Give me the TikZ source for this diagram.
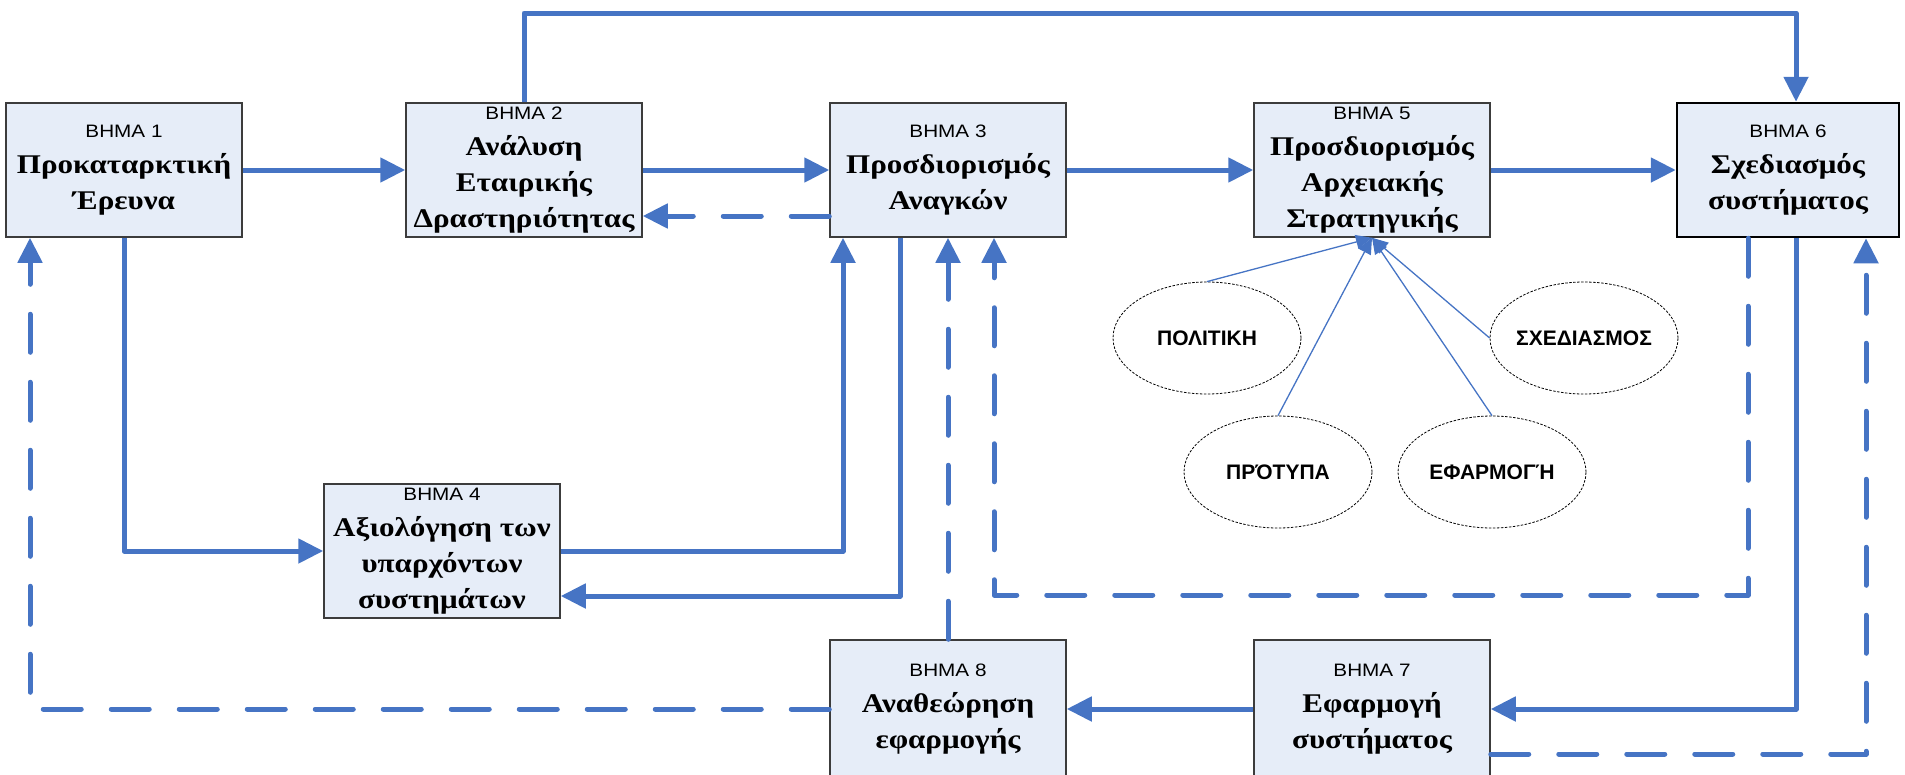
\documentclass[tikz,border=0pt]{standalone}
\usepackage{fontspec}
\setmainfont{Liberation Serif}
\newfontfamily\boxfont{Liberation Serif}[FakeStretch=1.15]
\newfontfamily\stepfont{Liberation Sans}[FakeStretch=1.15]
\newfontfamily\ellfont{Liberation Sans}
\usetikzlibrary{arrows.meta,shapes.geometric}
\definecolor{lineblue}{RGB}{70,116,196}
\definecolor{boxfill}{RGB}{230,237,248}
\definecolor{boxedge}{RGB}{60,60,60}
\newcommand{\steplabel}[1]{{\stepfont\mdseries\fontsize{18}{36}\selectfont #1}}
\tikzset{
  stepbox/.style={draw=boxedge, line width=1.5pt, fill=boxfill, minimum width=236pt,
    minimum height=134pt, inner sep=0pt, align=center,
    font=\boxfont\bfseries\fontsize{27}{36}\selectfont},
  conn/.style={draw=lineblue, line width=5pt, line join=round,
    -{Triangle[length=25pt,width=24pt]}},
  dconn/.style={conn, dash pattern=on 38pt off 30pt, line cap=round},
  ellshape/.style={ellipse, draw=black, line width=0.8pt, dash pattern=on 2.5pt off 1.5pt,
    fill=white, minimum width=188pt, minimum height=112pt, inner sep=0pt},
  elltext/.style={font=\ellfont\bfseries\fontsize{21}{24}\selectfont, inner sep=0pt},
  ellconn/.style={draw=lineblue, line width=1.3pt, -{Triangle[length=16pt,width=14pt]}}
}
\begin{document}
\begin{tikzpicture}[x=1pt,y=-1pt]
\useasboundingbox (0,0) rectangle (1905,774);

% boxes
\node[stepbox] (box1) at (124,170) {\steplabel{ΒΗΜΑ 1}\\Προκαταρκτική\\Έρευνα};
\node[stepbox] (box2) at (524,170) {\steplabel{ΒΗΜΑ 2}\\Ανάλυση\\Εταιρικής\\Δραστηριότητας};
\node[stepbox] (box3) at (948,170) {\steplabel{ΒΗΜΑ 3}\\Προσδιορισμός\\Αναγκών};
\node[stepbox] (box5) at (1372,170) {\steplabel{ΒΗΜΑ 5}\\Προσδιορισμός\\Αρχειακής\\Στρατηγικής};
\node[stepbox, draw=black, line width=2.5pt, minimum width=222pt] (box6) at (1788,170) {\steplabel{ΒΗΜΑ 6}\\Σχεδιασμός\\συστήματος};
\node[stepbox] (box4) at (442,551) {\steplabel{ΒΗΜΑ 4}\\Αξιολόγηση των\\υπαρχόντων\\συστημάτων};
\node[stepbox, minimum height=138pt] (box8) at (948,709) {\steplabel{ΒΗΜΑ 8}\\Αναθεώρηση\\εφαρμογής};
\node[stepbox, minimum height=138pt] (box7) at (1372,709) {\steplabel{ΒΗΜΑ 7}\\Εφαρμογή\\συστήματος};

% ellipses
\node[ellshape] (pol) at (1207,338) {};
\node[elltext] (polt) at (pol) {ΠΟΛΙΤΙΚΗ};
\node[ellshape] (sxe) at (1584,338) {};
\node[elltext] (sxet) at (sxe) {ΣΧΕΔΙΑΣΜΟΣ};
\node[ellshape] (pro) at (1278,472) {};
\node[elltext] (prot) at (pro) {ΠΡΌΤΥΠΑ};
\node[ellshape] (efa) at (1492,472) {};
\node[elltext] (efat) at (efa) {ΕΦΑΡΜΟΓΉ};

% helper coordinates
\coordinate (v1) at (30,0);
\coordinate (v2) at (843,0);
\coordinate (v3) at (900,0);
\coordinate (v4) at (994,0);
\coordinate (v5) at (1748,0);
\coordinate (v6) at (1796,0);
\coordinate (v7) at (1866,0);
\coordinate (hTop) at (0,13);
\coordinate (hMid) at (0,595);

% connectors
\draw[conn] (box1.east) -- (box2.west);
\draw[conn] (box2.east) -- (box3.west);
\draw[conn] (box3.east) -- (box5.west);
\draw[conn] (box5.east) -- (box6.west);
\draw[dconn] ([yshift=-46pt]box3.west) -- ([yshift=-46pt]box2.east);
\draw[conn] (box2.north) |- (v6 |- hTop) -- (v6 |- box6.north);
\draw[conn] (box1.south) |- (box4.west);
\draw[conn] (box4.east) -| (v2 |- box3.south);
\draw[conn] (v3 |- box3.south) |- ([yshift=-45pt]box4.east);
\draw[dconn] (box8.north) -- (box3.south);
\draw[dconn] (v5 |- box6.south) |- (v4 |- hMid) -- (v4 |- box3.south);
\draw[conn] (v6 |- box6.south) |- (box7.east);
\draw[dconn] ([yshift=-45pt]box7.east) -| (v7 |- box6.south);
\draw[conn] (box7.west) -- (box8.east);
\draw[dconn] (box8.west) -| (v1 |- box1.south);

% ellipse connectors
\draw[ellconn] (pol.north) -- (box5.south);
\draw[ellconn] (pro.north) -- (box5.south);
\draw[ellconn] (efa.north) -- (box5.south);
\draw[ellconn] (sxe.west) -- (box5.south);
\end{tikzpicture}
\end{document}
